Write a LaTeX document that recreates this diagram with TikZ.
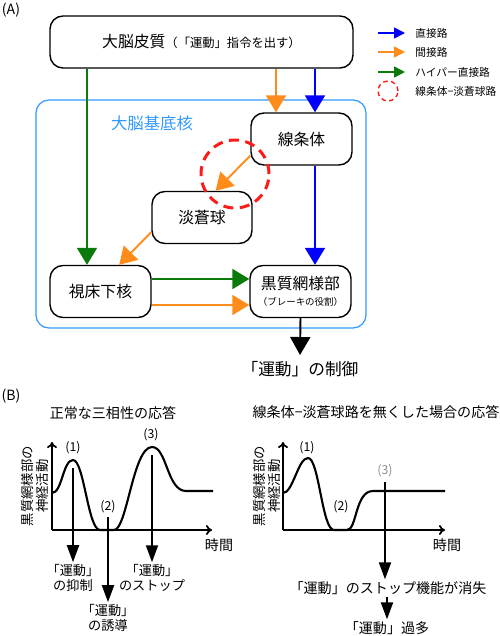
\documentclass[tikz,border=0pt]{standalone}
\usepackage{fontspec}
\setmainfont{Noto Sans CJK JP}
\usetikzlibrary{arrows.meta,calc,positioning}
\definecolor{pathBlue}{HTML}{0000FF}
\definecolor{pathOrange}{HTML}{FF8C1A}
\definecolor{pathGreen}{HTML}{0A7A0A}
\definecolor{loopRed}{HTML}{FF1A1A}
\definecolor{nucleusBlue}{HTML}{3399FF}

\begin{document}
\begin{tikzpicture}[
  x=0.02cm, y=-0.02cm,
  nucleus/.style={draw=nucleusBlue, line width=0.7pt, rounded corners=0.26cm, minimum width=330*0.02cm, minimum height=228*0.02cm, inner sep=0pt},
  nbox/.style={draw=black, line width=0.8pt, rounded corners=0.26cm, fill=white, minimum width=101*0.02cm, minimum height=52*0.02cm, align=center, inner sep=0pt, font=\fontsize{9}{11}\selectfont},
  loopmark/.style={circle, draw=loopRed, dash pattern=on 0.2cm off 0.13cm, line width=1.7pt, inner sep=0pt},
  direct/.style={draw=pathBlue, line width=1.1pt, -{Triangle[width=0.4cm, length=0.34cm]}},
  indirect/.style={draw=pathOrange, line width=1.1pt, -{Triangle[width=0.4cm, length=0.34cm]}},
  hyper/.style={draw=pathGreen, line width=1.1pt, -{Triangle[width=0.4cm, length=0.34cm]}},
  legtext/.style={anchor=west, font=\fontsize{6.1}{7}\selectfont, inner sep=0pt},
  legarrow/.style={line width=0.9pt, -{Triangle[width=0.22cm, length=0.22cm]}},
  bhead/.style={font=\fontsize{8}{10}\selectfont, inner sep=1pt},
  ylab/.style={rotate=90, align=center, font=\fontsize{7.6}{8.4}\selectfont, inner sep=0pt},
  phase/.style={font=\fontsize{7}{8}\selectfont, inner sep=0pt},
  effect/.style={align=center, font=\fontsize{7.5}{8.6}\selectfont, inner sep=1pt},
  axisline/.style={line width=1pt, -{To[length=0.12cm, width=0.2cm]}},
  resp/.style={line width=1.2pt, line join=round},
  downarrow/.style={line width=1.1pt, -{Triangle[width=0.24cm, length=0.34cm]}}
]
\useasboundingbox (0,0) rectangle (500,636);

\node[font=\fontsize{8}{10}\selectfont] (labA) at (11,10) {(A)};

\node[nucleus] (bg) at (201,214) {};
\node[font=\fontsize{9.3}{11}\selectfont, text=nucleusBlue] (bglab) at (152,123) {大脳基底核};

\node[nbox, minimum width=303*0.02cm] (cortex) at (201.5,42)
  {大脳皮質{\fontsize{7}{9}\selectfont （「運動」指令を出す）}};
\node[nbox] (str) at (301.5,139) {線条体};
\node[nbox, minimum width=100*0.02cm] (gp) at (202,217.5) {淡蒼球};
\node[nbox] (stn) at (100.5,291.5) {視床下核};
\node[nbox] (snr) at (300.5,291.5)
  {黒質網様部\\[-2pt]{\fontsize{5.4}{6}\selectfont （ブレーキの役割）}};
\node[font=\fontsize{9.5}{11}\selectfont] (ctrl) at (300,369) {「運動」の制御};

\node[loopmark, minimum size=68*0.02cm] (loop) at (235,174) {};

\coordinate (gx) at (87,0);
\coordinate (ox) at (276,0);
\coordinate (bx) at (315,0);
\draw[hyper] (cortex.south -| gx) -- (stn.north -| gx);
\draw[indirect] (cortex.south -| ox) -- (str.north -| ox);
\draw[direct] (cortex.south -| bx) -- (str.north -| bx);
\draw[indirect] (str.198) -- (gp.63);
\draw[indirect] (gp.196) -- (stn.55);
\draw[direct] (str.south -| bx) -- (snr.north -| bx);
\draw[hyper] ([yshift=0.25cm]stn.east) -- ([yshift=0.25cm]snr.west);
\draw[indirect] ([yshift=-0.27cm]stn.east) -- ([yshift=-0.27cm]snr.west);
\draw[line width=1.1pt, -{Triangle[width=0.4cm, length=0.36cm]}] (snr.south) -- (ctrl.north);

\foreach \y/\col/\txt [count=\i] in {33/pathBlue/直接路, 52/pathOrange/間接路, 72/pathGreen/ハイパー直接路} {
  \coordinate (lg\i) at (378,\y);
  \node[legtext] (lt\i) at (415,\y) {\txt};
  \draw[draw=\col, legarrow] (lg\i) -- ([xshift=-0.2cm]lt\i.west);
}
\node[loopmark, minimum size=20*0.02cm, line width=0.8pt, dash pattern=on 0.09cm off 0.07cm] (lgloop) at (388,91) {};
\node[legtext] (lt4) at (415,91) {線条体−淡蒼球路};

\node[font=\fontsize{8}{10}\selectfont] (labB) at (11,396) {(B)};
\node[bhead] (head1) at (113,413) {正常な三相性の応答};
\node[bhead] (head2) at (376,412) {線条体−淡蒼球路を無くした場合の応答};

\draw[axisline] (52,530) -- (52,442);
\draw[axisline] (52,530) -- (212,530);
\draw[resp] (52,493) .. controls (62,493) and (63,460) .. (73,460)
  .. controls (84,460) and (88,530) .. (100,530) -- (114,530)
  .. controls (127,530) and (133,447) .. (152,447)
  .. controls (167,447) and (167,491) .. (186,491) -- (213,491);
\node[ylab] (ylab1) at (35,486) {黒質網様部の\\神経活動};
\node[bhead] (time1) at (219,545) {時間};
\node[phase] (ph1) at (73,448) {(1)};
\node[phase] (ph2) at (108,507) {(2)};
\node[phase] (ph3) at (151,435) {(3)};
\node[effect] (inh) at (73,578) {「運動」\\の抑制};
\node[effect] (ind) at (108,618) {「運動」\\の誘導};
\node[effect] (stp) at (152,578) {「運動」\\のストップ};
\coordinate (p1) at (73,468);
\coordinate (p2) at (108,517);
\coordinate (p3) at (152,455);
\draw[downarrow] (p1) -- (p1 |- inh.north);
\draw[downarrow] (p2) -- (p2 |- ind.north);
\draw[downarrow] (p3) -- (p3 |- stp.north);

\draw[axisline] (283,530) -- (283,442);
\draw[axisline] (283,530) -- (445,530);
\draw[resp] (283,493) .. controls (293,493) and (298,458) .. (308,458)
  .. controls (319,458) and (322,530) .. (334,530) -- (347,530)
  .. controls (357,530) and (355,491) .. (373,491) -- (445,491);
\node[ylab] (ylab2) at (267,486) {黒質網様部の\\神経活動};
\node[bhead] (time2) at (447,545) {時間};
\node[phase] (ph4) at (307,448) {(1)};
\node[phase] (ph5) at (341,507) {(2)};
\node[phase, text=black!45] (ph6) at (385,471) {(3)};
\coordinate (q3) at (385,482);
\node[bhead] (loss) at (388,588) {「運動」のストップ機能が消失};
\node[bhead] (excess) at (387,628) {「運動」過多};
\draw[downarrow] (q3) -- (q3 |- loss.north);
\draw[downarrow] (excess.north |- loss.south) -- (excess.north);
\end{tikzpicture}
\end{document}
